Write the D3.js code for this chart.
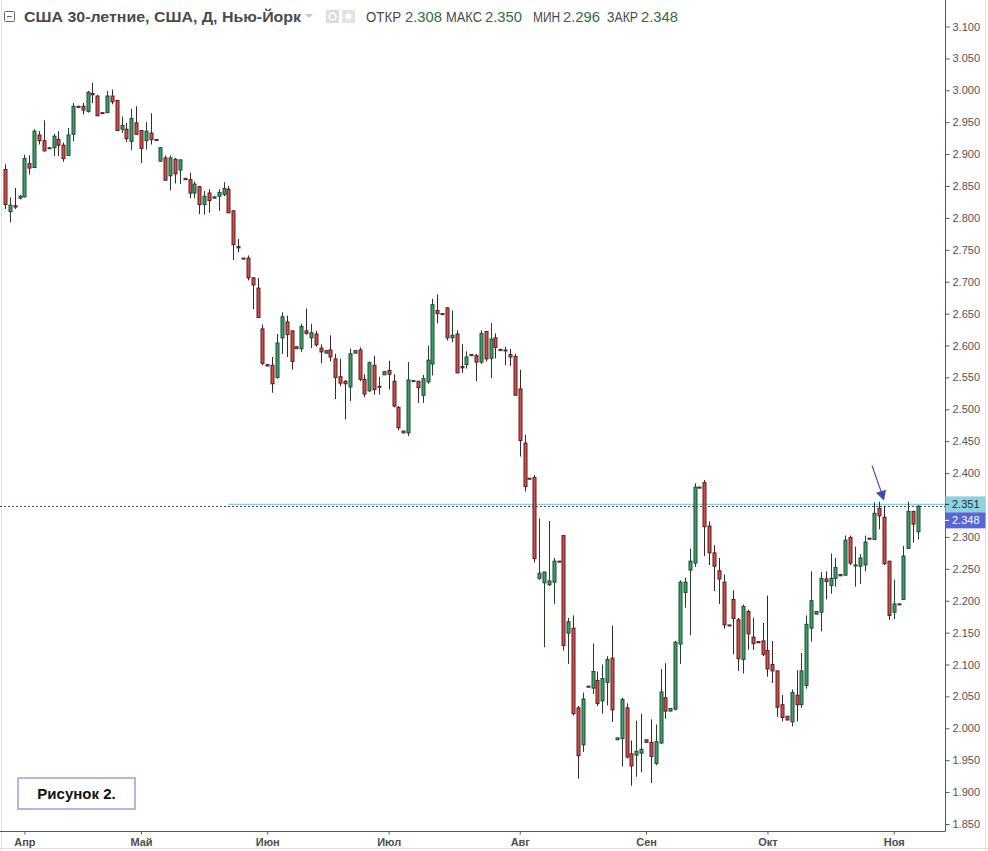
<!DOCTYPE html>
<html><head><meta charset="utf-8">
<script src="https://cdn.jsdelivr.net/npm/d3@7"></script>
<style>body{margin:0;background:#fff;overflow:hidden}svg{display:block}</style>
</head><body>
<script>
// ---- data (US 30Y yield, daily candles) ----
const open = [2.876,2.810,2.819,2.831,2.833,2.885,2.879,2.930,2.921,2.910,2.910,2.923,2.914,2.898,2.931,2.975,2.975,2.967,2.995,2.991,
2.965,2.965,2.991,2.984,2.939,2.939,2.920,2.949,2.937,2.921,2.933,2.923,2.889,2.894,2.866,2.892,2.875,2.862,2.860,2.839,
2.849,2.821,2.839,2.831,2.834,2.837,2.845,2.811,2.755,2.737,2.737,2.706,2.690,2.626,2.570,2.569,2.550,2.612,2.637,2.623,
2.598,2.595,2.623,2.612,2.618,2.596,2.588,2.593,2.579,2.551,2.544,2.535,2.588,2.593,2.547,2.529,2.569,2.536,2.554,2.561,
2.544,2.503,2.466,2.463,2.545,2.544,2.522,2.543,2.571,2.655,2.650,2.659,2.612,2.618,2.567,2.570,2.586,2.584,2.574,2.622,
2.580,2.612,2.594,2.593,2.586,2.583,2.532,2.447,2.392,2.393,2.235,2.228,2.225,2.229,2.262,2.302,2.149,2.157,2.032,1.974,
2.066,2.063,2.075,2.043,2.072,2.110,1.982,1.984,2.032,1.960,1.958,1.961,1.982,1.978,1.945,1.977,2.048,2.027,2.030,2.132,
2.213,2.248,2.259,2.378,2.385,2.317,2.275,2.247,2.229,2.162,2.202,2.170,2.108,2.183,2.143,2.136,2.137,2.122,2.100,2.090,
2.037,2.019,2.010,2.052,2.037,2.067,2.157,2.179,2.182,2.234,2.224,2.235,2.241,2.240,2.299,2.256,2.254,2.256,2.298,2.296,
2.345,2.331,2.262,2.182,2.195,2.202,2.282,2.340,2.308];
const high = [2.884,2.832,2.847,2.836,2.899,2.898,2.939,2.936,2.953,2.911,2.932,2.936,2.918,2.941,2.980,2.975,2.980,2.999,3.012,2.993,
2.965,2.999,3.001,2.985,2.959,2.949,2.971,2.975,2.937,2.950,2.964,2.923,2.911,2.898,2.898,2.894,2.891,2.862,2.871,2.857,
2.849,2.842,2.845,2.834,2.845,2.856,2.850,2.812,2.767,2.737,2.741,2.707,2.706,2.633,2.571,2.582,2.618,2.652,2.647,2.623,
2.598,2.634,2.658,2.634,2.623,2.602,2.592,2.616,2.587,2.579,2.546,2.595,2.592,2.597,2.555,2.575,2.584,2.551,2.559,2.576,
2.555,2.505,2.466,2.574,2.545,2.544,2.554,2.600,2.673,2.680,2.650,2.660,2.655,2.624,2.602,2.591,2.586,2.587,2.624,2.622,
2.635,2.619,2.594,2.598,2.595,2.587,2.562,2.460,2.392,2.397,2.329,2.245,2.325,2.267,2.262,2.302,2.173,2.177,2.035,2.056,
2.066,2.133,2.089,2.100,2.113,2.161,1.985,2.048,2.039,1.981,2.012,2.023,1.982,2.014,2.006,2.093,2.102,2.031,2.137,2.232,
2.236,2.282,2.384,2.378,2.389,2.324,2.287,2.267,2.241,2.162,2.216,2.173,2.194,2.186,2.173,2.136,2.165,2.208,2.137,2.090,
2.052,2.019,2.061,2.091,2.118,2.177,2.246,2.183,2.245,2.246,2.274,2.267,2.241,2.302,2.302,2.285,2.273,2.302,2.298,2.354,
2.355,2.349,2.262,2.233,2.195,2.286,2.355,2.340,2.350];
const low = [2.814,2.793,2.814,2.829,2.832,2.868,2.878,2.915,2.904,2.909,2.897,2.897,2.888,2.898,2.920,2.973,2.962,2.965,2.980,2.960,
2.964,2.965,2.978,2.936,2.933,2.919,2.906,2.930,2.886,2.907,2.915,2.922,2.888,2.859,2.843,2.854,2.853,2.860,2.831,2.831,
2.806,2.805,2.808,2.830,2.811,2.834,2.808,2.734,2.746,2.736,2.702,2.657,2.644,2.569,2.567,2.526,2.548,2.587,2.582,2.562,
2.595,2.590,2.617,2.596,2.598,2.572,2.588,2.575,2.516,2.536,2.484,2.513,2.588,2.544,2.519,2.527,2.523,2.523,2.554,2.531,
2.503,2.467,2.463,2.458,2.544,2.510,2.510,2.540,2.553,2.635,2.649,2.608,2.605,2.557,2.557,2.564,2.584,2.544,2.571,2.575,
2.549,2.580,2.592,2.569,2.568,2.522,2.426,2.371,2.391,2.260,2.233,2.127,2.223,2.195,2.261,2.122,2.101,2.020,1.921,1.963,
2.065,2.054,2.035,2.023,2.036,2.010,1.982,1.940,1.953,1.910,1.924,1.931,1.978,1.914,1.942,1.975,2.015,2.027,2.028,2.101,
2.189,2.146,2.253,2.377,2.270,2.256,2.215,2.195,2.156,2.161,2.116,2.090,2.086,2.123,2.123,2.134,2.113,2.081,2.071,2.018,
2.011,2.013,2.003,2.011,2.032,2.062,2.136,2.179,2.152,2.202,2.211,2.222,2.239,2.240,2.256,2.222,2.226,2.246,2.297,2.296,
2.312,2.256,2.170,2.171,2.194,2.202,2.281,2.291,2.296];
const close = [2.821,2.820,2.817,2.834,2.893,2.878,2.936,2.921,2.905,2.910,2.928,2.914,2.893,2.930,2.975,2.973,2.969,2.997,2.993,2.960,
2.964,2.991,2.982,2.937,2.945,2.924,2.956,2.931,2.909,2.936,2.923,2.922,2.910,2.859,2.894,2.869,2.891,2.860,2.839,2.853,
2.821,2.834,2.827,2.833,2.840,2.846,2.808,2.758,2.753,2.736,2.706,2.695,2.644,2.572,2.568,2.540,2.604,2.645,2.617,2.575,
2.595,2.630,2.619,2.620,2.601,2.590,2.592,2.582,2.550,2.541,2.540,2.587,2.592,2.547,2.524,2.573,2.531,2.536,2.559,2.555,
2.505,2.471,2.463,2.546,2.545,2.534,2.548,2.577,2.664,2.650,2.649,2.612,2.616,2.557,2.565,2.582,2.584,2.574,2.619,2.579,
2.610,2.597,2.592,2.593,2.582,2.522,2.451,2.379,2.391,2.266,2.243,2.245,2.231,2.262,2.261,2.130,2.167,2.023,1.957,2.046,
2.065,2.089,2.039,2.078,2.108,2.029,1.985,2.045,1.955,1.941,1.964,1.967,1.978,1.956,1.979,2.057,2.027,2.031,2.135,2.229,
2.229,2.262,2.378,2.377,2.316,2.275,2.254,2.234,2.162,2.161,2.172,2.109,2.191,2.148,2.133,2.134,2.116,2.093,2.090,2.033,
2.017,2.013,2.056,2.037,2.090,2.163,2.200,2.183,2.235,2.230,2.235,2.252,2.239,2.295,2.259,2.256,2.267,2.292,2.297,2.337,
2.333,2.258,2.177,2.195,2.194,2.270,2.340,2.320,2.348];
const monthLabels = ["Апр","Май","Июн","Июл","Авг","Сен","Окт","Ноя"];
const monthStart = [4,28,54,79,106,132,157,183];   // candle index of the first session of each month
const yTickValues = [3.10,3.05,3.00,2.95,2.90,2.85,2.80,2.75,2.70,2.65,2.60,2.55,2.50,2.45,2.40,2.35,2.30,2.25,2.20,2.15,2.10,2.05,2.00,1.95,1.90,1.85];
const levelValue = 2.351;      // horizontal level drawn on the chart
const levelStartIndex = 46;    // candle index where the level ray starts
const arrowIndex = 181;        // candle the arrow points at
const figureLabel = "Рисунок 2.";
const titleText = "США 30-летние, США, Д, Нью-Йорк";
const ohlcLabels = ["ОТКР","МАКС","МИН","ЗАКР"];

// ---- layout ----
const W = 988, H = 851;
const axisX = 945, axisY = 831;
const n = open.length;
const x = d3.scaleLinear().domain([0, n - 1]).range([5, 918]);
const y = d3.scaleLinear().domain([1.85, 3.1]).range([824, 26.5]);

const svg = d3.select("body").append("svg").attr("width", W).attr("height", H)
  .style("font-family", "'Liberation Sans', Arial, sans-serif");

// frame
svg.append("rect").attr("x", 0).attr("y", 0).attr("width", W).attr("height", H).attr("fill", "#fff");
svg.append("line").attr("x1", 1.5).attr("x2", 1.5).attr("y1", 0).attr("y2", H).attr("stroke", "#dfe2e8");
svg.append("line").attr("x1", 985.5).attr("x2", 985.5).attr("y1", 0).attr("y2", H).attr("stroke", "#dfe2e8");
svg.append("line").attr("x1", 0).attr("x2", W).attr("y1", 848.5).attr("y2", 848.5).attr("stroke", "#dfe2e8");

// level lines
const lastClose = close[n - 1];
svg.append("line").attr("x1", x(levelStartIndex)).attr("x2", axisX)
  .attr("y1", y(levelValue)).attr("y2", y(levelValue))
  .attr("stroke", "#8ccfdc").attr("stroke-width", 1.4);
svg.append("line").attr("x1", 0).attr("x2", axisX)
  .attr("y1", Math.round(y(lastClose)) + 0.5).attr("y2", Math.round(y(lastClose)) + 0.5)
  .attr("stroke", "#3e4b6b").attr("stroke-width", 1).attr("stroke-dasharray", "2,2");

// candles
const idx = d3.range(n);
const up = i => close[i] >= open[i];
const g = svg.append("g");
g.selectAll("line.wick").data(idx).join("line").attr("class", "wick")
  .attr("x1", i => Math.round(x(i)) + 0.5).attr("x2", i => Math.round(x(i)) + 0.5)
  .attr("y1", i => y(high[i])).attr("y2", i => y(low[i]))
  .attr("stroke", i => up(i) ? "#22402e" : "#3a2626").attr("stroke-width", 1);
g.selectAll("rect.body").data(idx).join("rect").attr("class", "body")
  .attr("x", i => Math.round(x(i)) - 1)
  .attr("width", 3)
  .attr("y", i => y(Math.max(open[i], close[i])))
  .attr("height", i => Math.max(1, Math.abs(y(open[i]) - y(close[i]))))
  .attr("fill", i => up(i) ? "#3f9f6c" : "#cf4f4f")
  .attr("stroke", i => up(i) ? "#1e4a30" : "#5c1e1e").attr("stroke-width", 1);

// axes
svg.append("line").attr("x1", axisX + 0.5).attr("x2", axisX + 0.5).attr("y1", 0).attr("y2", axisY + 0.5)
  .attr("stroke", "#555a63");
svg.append("line").attr("x1", 0).attr("x2", axisX + 0.5).attr("y1", axisY + 0.5).attr("y2", axisY + 0.5)
  .attr("stroke", "#555a63");

const yAxisG = svg.append("g").attr("transform", `translate(${axisX + 0.5},0)`)
  .call(d3.axisRight(y).tickValues(yTickValues).tickFormat(d3.format(".3f")).tickSize(4).tickPadding(3));
yAxisG.select(".domain").remove();
yAxisG.selectAll(".tick line").attr("stroke", "#555a63");
yAxisG.selectAll(".tick text").attr("fill", "#555").style("font-size", "11px")
  .style("font-family", "'Liberation Sans', Arial, sans-serif");

const xAxisG = svg.append("g").attr("transform", `translate(0,${axisY + 0.5})`)
  .call(d3.axisBottom(x).tickValues(monthStart).tickFormat((d, k) => monthLabels[k]).tickSize(3).tickPadding(4));
xAxisG.select(".domain").remove();
xAxisG.selectAll(".tick line").attr("stroke", "#555a63");
xAxisG.selectAll(".tick text").attr("fill", "#4d4d4d").style("font-size", "11px")
  .style("font-family", "'Liberation Sans Narrow', 'Liberation Sans', Arial, sans-serif")
  .style("font-weight", "bold");

// price labels on axis
function priceTag(val, yc, fill, color) {
  svg.append("rect").attr("x", axisX + 0.5).attr("y", yc - 8).attr("width", 985 - axisX).attr("height", 16).attr("fill", fill);
  svg.append("line").attr("x1", axisX).attr("x2", axisX + 4).attr("y1", yc).attr("y2", yc).attr("stroke", color);
  svg.append("text").attr("x", axisX + 7).attr("y", yc + 4).attr("fill", color).style("font-size", "11px")
    .text(d3.format(".3f")(val));
}
priceTag(levelValue, y(levelValue), "#8fd2de", "#1f2f3a");
priceTag(lastClose, y(levelValue) + 16, "#5566d6", "#ffffff");

// arrow pointing at the local top
const ax = x(arrowIndex), ay = y(high[arrowIndex]);
svg.append("line").attr("x1", ax - 12).attr("y1", ay - 40).attr("x2", ax - 2.5).attr("y2", ay - 13)
  .attr("stroke", "#3f4cb4").attr("stroke-width", 1.2);
svg.append("path")
  .attr("d", `M${ax},${ay - 5} L${ax - 8},${ay - 13} L${ax + 2},${ay - 16} Z`)
  .attr("fill", "#3f4cb4");

// header
const hdr = svg.append("g");
hdr.append("rect").attr("x", 4.5).attr("y", 11.5).attr("width", 10).attr("height", 10).attr("fill", "none").attr("stroke", "#666").attr("rx", 1);
hdr.append("line").attr("x1", 7).attr("x2", 12).attr("y1", 16.5).attr("y2", 16.5).attr("stroke", "#666");
hdr.append("text").attr("x", 24).attr("y", 22).attr("fill", "#4a4a4a").style("font-size", "15px").style("font-weight", "bold")
  .attr("textLength", 277).attr("lengthAdjust", "spacingAndGlyphs").text(titleText);
hdr.append("path").attr("d", "M305,14 L313,14 L309,18 Z").attr("fill", "#c8c8c8");
hdr.append("rect").attr("x", 326).attr("y", 10).attr("width", 13).attr("height", 13).attr("fill", "#dcdcdc");
hdr.append("circle").attr("cx", 332.5).attr("cy", 16.5).attr("r", 3.5).attr("fill", "none").attr("stroke", "#fff").attr("stroke-width", 1.5);
hdr.append("rect").attr("x", 342).attr("y", 10).attr("width", 13).attr("height", 13).attr("fill", "#e4e4e4");
hdr.append("circle").attr("cx", 348.5).attr("cy", 16.5).attr("r", 3).attr("fill", "#fff");
const ohlcVals = [open[n - 1], high[n - 1], low[n - 1], close[n - 1]];
const labX = [366, 446, 533, 607], valX = [404, 484, 562, 640], labW = [35, 36, 27, 31];
ohlcLabels.forEach((l, k) => {
  hdr.append("text").attr("x", labX[k]).attr("y", 22).attr("fill", "#4a4a4a").style("font-size", "14px")
    .attr("textLength", labW[k]).attr("lengthAdjust", "spacingAndGlyphs").text(l);
  hdr.append("text").attr("x", valX[k] + 1).attr("y", 22).attr("fill", "#2f6e48").style("font-size", "14px")
    .attr("textLength", 37).attr("lengthAdjust", "spacingAndGlyphs").text(d3.format(".3f")(ohlcVals[k]));
});

// figure label box
svg.append("rect").attr("x", 18).attr("y", 778).attr("width", 117).attr("height", 31)
  .attr("fill", "#fff").attr("stroke", "#9d9fd4").attr("stroke-width", 1.5);
svg.append("text").attr("x", 76.5).attr("y", 799).attr("text-anchor", "middle").attr("fill", "#111")
  .style("font-size", "15px").style("font-weight", "bold").text(figureLabel);
</script>
</body></html>
